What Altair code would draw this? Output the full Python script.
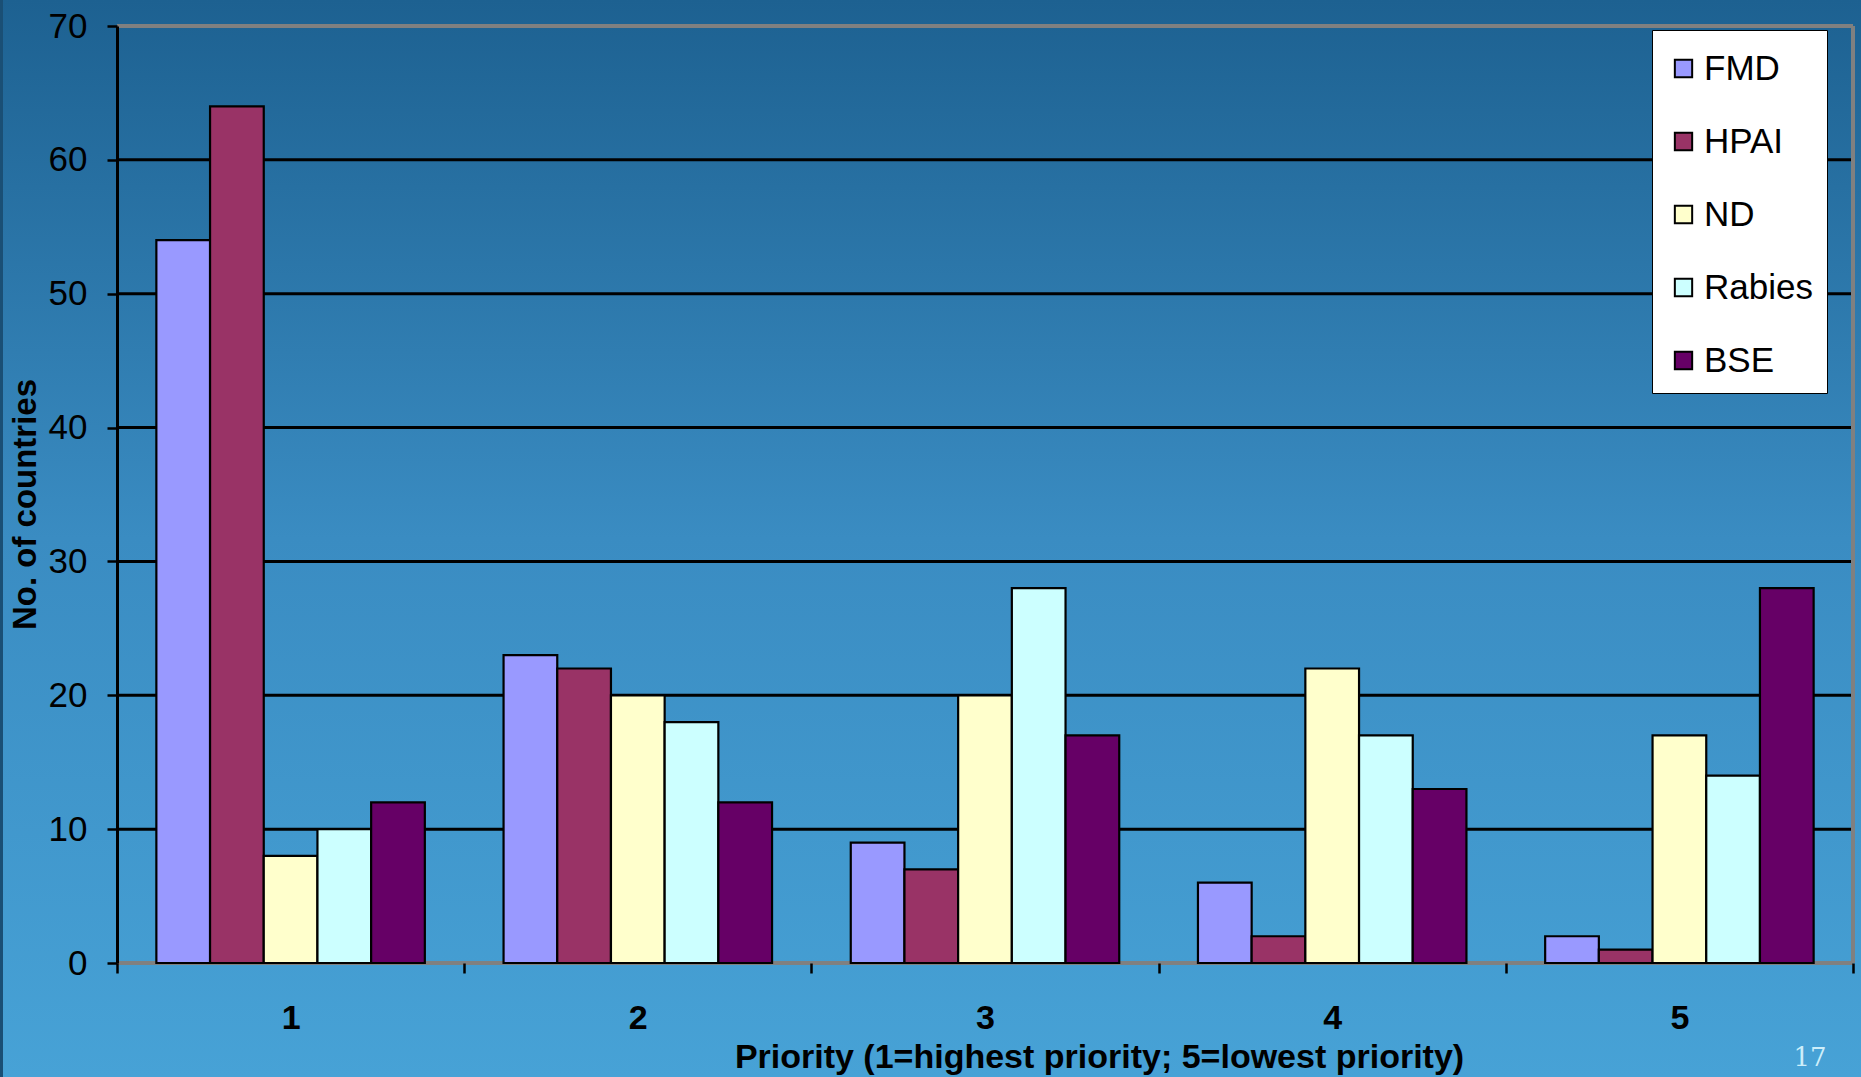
import altair as alt
import pandas as pd

priorities = ["1", "2", "3", "4", "5"]
diseases = ["FMD", "HPAI", "ND", "Rabies", "BSE"]
colors = ["#9999FF", "#993366", "#FFFFCC", "#CCFFFF", "#660066"]
values = {
    "FMD":    [54, 23, 9, 6, 2],
    "HPAI":   [64, 22, 7, 2, 1],
    "ND":     [8, 20, 20, 22, 17],
    "Rabies": [10, 18, 28, 17, 14],
    "BSE":    [12, 12, 17, 13, 28],
}
y_ticks = [0, 10, 20, 30, 40, 50, 60, 70]
grid_black = [10, 20, 30, 40, 50, 60]
frame_gray = [0, 70]

rows = []
for d in diseases:
    for p, v in zip(priorities, values[d]):
        rows.append({"priority": p, "disease": d, "count": v})
df = pd.DataFrame(rows)

W, H = 1736, 937
PL, PT, PR, PB = 117, 26, 8, 114

grad = alt.LinearGradient(
    gradient="linear", x1=0, x2=0, y1=0, y2=1,
    stops=[alt.GradientStop(color="#1d6191", offset=0),
           alt.GradientStop(color="#3a8cc2", offset=0.5),
           alt.GradientStop(color="#47a2d6", offset=1)],
)

bg = alt.Chart(pd.DataFrame({"a": [0]})).mark_rect(fill=grad, clip=False).encode(
    x=alt.value(-PL), x2=alt.value(W + PR),
    y=alt.value(-PT), y2=alt.value(H + PB),
)

slide_edge = alt.Chart(pd.DataFrame({"a": [0]})).mark_rule(
    color="#1a4f75", strokeWidth=3, clip=False).encode(
    x=alt.value(-PL + 1.5), y=alt.value(-PT), y2=alt.value(H + PB))

yscale = alt.Scale(domain=[0, 70], nice=False)
font = "Liberation Sans, Arial"

y_axis = alt.Axis(
    title="No. of countries", values=y_ticks,
    labelFontSize=35, labelFont=font, labelColor="black",
    labelPadding=20, tickColor="black", tickSize=10, tickWidth=2.5,
    domainColor="black", domainWidth=3, grid=False, zindex=1,
    titleFont=font, titleFontSize=33, titleFontWeight="bold",
    titleColor="black", titleAngle=270, titleX=-92, titleY=478,
    titleAlign="center", titleBaseline="middle",
)

grid = alt.Chart(pd.DataFrame({"count": grid_black})).mark_rule(
    color="black", strokeWidth=3).encode(y=alt.Y("count:Q", scale=yscale, axis=y_axis))

frame = alt.Chart(pd.DataFrame({"count": frame_gray})).mark_rule(
    color="#808080", strokeWidth=4).encode(y=alt.Y("count:Q", scale=yscale, axis=y_axis))

right_edge = alt.Chart(pd.DataFrame({"a": [0]})).mark_rule(
    color="#808080", strokeWidth=4).encode(
    x=alt.value(W), y=alt.value(0), y2=alt.value(H))

bars = alt.Chart(df).mark_bar(stroke="black", strokeWidth=2.2, strokeJoin="miter").encode(
    x=alt.X("priority:N", sort=priorities,
            scale=alt.Scale(paddingInner=0, paddingOuter=0),
            axis=alt.Axis(
                title="Priority (1=highest priority; 5=lowest priority)",
                labelAngle=0, labelFontSize=34, labelFontWeight="bold",
                labelFont=font, labelColor="black", labelPadding=28,
                tickBand="extent", tickColor="black", tickSize=10, tickWidth=2.5,
                domain=False, zindex=1,
                titleFont=font, titleFontSize=34, titleFontWeight="bold",
                titleColor="black", titleX=982, titleY=104,
                titleAlign="center", titleBaseline="alphabetic",
            )),
    xOffset=alt.XOffset("disease:N", sort=diseases,
                        scale=alt.Scale(paddingInner=0, paddingOuter=0.733)),
    y=alt.Y("count:Q", scale=yscale, axis=y_axis),
    color=alt.Color("disease:N", sort=diseases,
                    scale=alt.Scale(domain=diseases, range=colors),
                    legend=alt.Legend(
                        title=" ", titleFontSize=1, titlePadding=6,
                        orient="none", legendX=1535, legendY=4,
                        fillColor="white", strokeColor="black",
                        padding=14, rowPadding=37, labelFontSize=35,
                        labelFont=font, labelColor="black",
                        symbolType="square", symbolSize=300, symbolStrokeColor="black",
                        symbolStrokeWidth=2, symbolOpacity=1,
                        labelOffset=3, symbolOffset=0, labelLimit=300,
                    )),
)

page = alt.Chart(pd.DataFrame({"t": ["17"]})).mark_text(
    font="DejaVu Serif, Liberation Serif, serif", fontSize=26, color="#cdeefa",
    align="center", baseline="alphabetic", clip=False,
).encode(text="t:N", x=alt.value(1810 - PL), y=alt.value(1066 - PT))

chart = alt.layer(bg, slide_edge, grid, frame, right_edge, bars, page).properties(
    width=W, height=H,
    autosize=alt.AutoSizeParams(type="none"),
    padding={"left": PL, "top": PT, "right": PR, "bottom": PB},
    background="#2e7db3",
).configure_view(stroke=None)

chart.save("out.html", embed_options={"renderer": "svg", "actions": False})
